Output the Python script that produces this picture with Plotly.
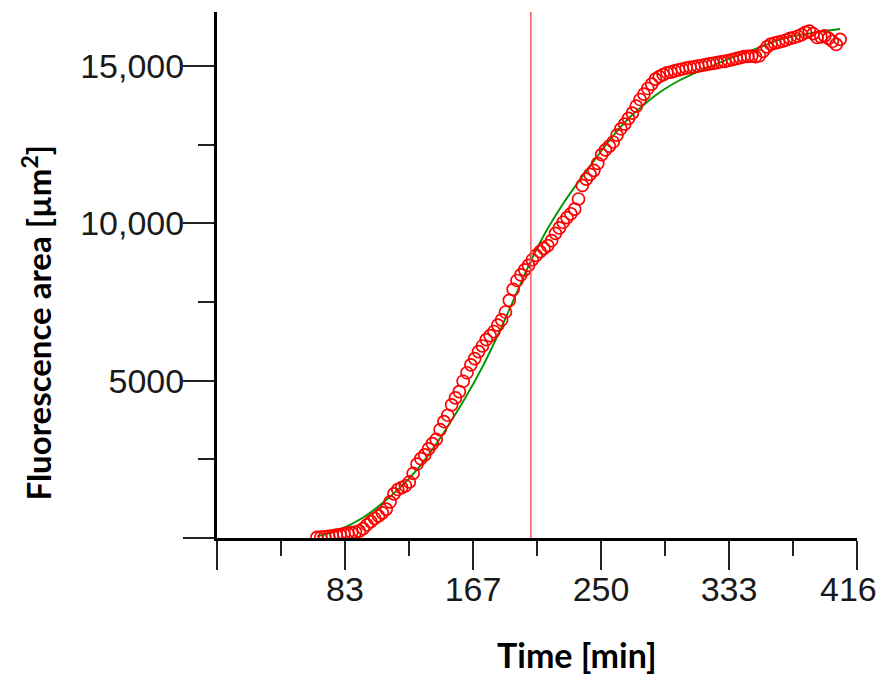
import plotly.graph_objects as go

# ---- data ----
time_min = [
    65, 67.5, 70, 72.5, 75, 77.5, 80, 82.5, 85, 87.5,
    90, 92.5, 95, 97.5, 100, 102.5, 105, 107.5, 110, 112.5,
    115, 117.5, 120, 122.5, 125, 127.5, 130, 132.5, 135, 137.5,
    140, 142.5, 145, 147.5, 150, 152.5, 155, 157.5, 160, 162.5,
    165, 167.5, 170, 172.5, 175, 177.5, 180, 182.5, 185, 187.5,
    190, 192.5, 195, 197.5, 200, 202.5, 205, 207.5, 210, 212.5,
    215, 217.5, 220, 222.5, 225, 227.5, 230, 232.5, 235, 237.5,
    240, 242.5, 245, 247.5, 250, 252.5, 255, 257.5, 260, 262.5,
    265, 267.5, 270, 272.5, 275, 277.5, 280, 282.5, 285, 287.5,
    290, 292.5, 295, 297.5, 300, 302.5, 305, 307.5, 310, 312.5,
    315, 317.5, 320, 322.5, 325, 327.5, 330, 332.5, 335, 337.5,
    340, 342.5, 345, 347.5, 350, 352.5, 355, 357.5, 360, 362.5,
    365, 367.5, 370, 372.5, 375, 377.5, 380, 382.5, 385, 387.5,
    390, 392.5, 395, 397.5, 400, 402.5, 405,
]
area_um2 = [
    20, 30, 40, 50, 70, 90, 110, 130, 150, 170,
    190, 220, 300, 420, 520, 620, 700, 800, 920, 1150,
    1400, 1540, 1600, 1660, 1780, 2050, 2350, 2520, 2640, 2830,
    3000, 3130, 3440, 3700, 3900, 4230, 4450, 4650, 4980, 5250,
    5500, 5700, 5920, 6100, 6300, 6430, 6560, 6760, 6930, 7180,
    7550, 7900, 8180, 8360, 8520, 8660, 8840, 8980, 9100, 9200,
    9290, 9450, 9680, 9850, 10030, 10180, 10300, 10450, 10770, 11200,
    11400, 11550, 11680, 11900, 12180, 12330, 12450, 12580, 12800, 13000,
    13150, 13330, 13500, 13720, 13930, 14100, 14280, 14420, 14580, 14660,
    14720, 14780, 14800, 14840, 14870, 14900, 14930, 14950, 14970, 14990,
    15010, 15040, 15060, 15080, 15100, 15130, 15140, 15170, 15200, 15230,
    15260, 15290, 15300, 15310, 15290, 15320, 15460, 15600, 15690, 15720,
    15750, 15780, 15820, 15870, 15900, 15940, 15990, 16060, 16100, 16020,
    15900, 15920, 15950, 15870, 15780, 15680, 15840,
]

# fitted curve (green)
fit_time = [65, 80, 95, 108, 119, 130, 141, 151, 162, 173, 184, 194, 204,
            214, 224, 234, 245, 257, 268, 280, 290, 301, 312, 322, 333,
            345, 356, 366, 380, 393, 405]
fit_area = [50, 270, 650, 1130, 1600, 2170, 2880, 3620, 4500, 5480, 6600,
            7700, 8800, 9750, 10550, 11250, 11980, 12750, 13350, 13870,
            14230, 14550, 14800, 15000, 15230, 15440, 15650, 15830, 15990,
            16090, 16170]

inflection_time = 204

x_tick_vals = [0, 83.2, 166.4, 249.6, 332.8, 416]
x_tick_text = ["", "83", "167", "250", "333", ""]
x_last_label = "416"          # drawn separately so it stays inside the window
x_last_label_pos = 410.5      # the reference nudges this label left of its tick
x_minor_vals = [41.6, 124.8, 208, 291.2, 374.4]
y_tick_vals = [0, 5000, 10000, 15000]
y_tick_text = ["", "5000", "10,000", "15,000"]
y_minor_vals = [2500, 7500, 12500]

X_MAX = 416
Y_MAX = 16710

fig = go.Figure()

fig.add_trace(go.Scatter(
    x=fit_time, y=fit_area, mode="lines", line_shape="spline",
    line=dict(color="rgb(0,150,0)", width=1.9), hoverinfo="skip",
))
fig.add_trace(go.Scatter(
    x=time_min, y=area_um2, mode="markers",
    marker=dict(symbol="circle-open", size=12, color="rgb(255,0,0)",
                line=dict(width=1.7, color="rgb(255,0,0)")),
))

fig.add_shape(type="line", xref="x", yref="y",
              x0=inflection_time, x1=inflection_time, y0=0, y1=Y_MAX,
              line=dict(color="rgb(245,80,80)", width=1.4))

tick_font = dict(family="Liberation Sans, Arial, sans-serif", size=34, color="#1a1a1a")

fig.update_xaxes(
    range=[0, X_MAX], showgrid=False, zeroline=False,
    showline=True, linecolor="black", linewidth=3,
    ticks="outside", ticklen=29, tickwidth=1.6, tickcolor="#222",
    tickmode="array", tickvals=x_tick_vals, ticktext=x_tick_text,
    tickfont=tick_font, ticklabelstandoff=-10,
    minor=dict(tickmode="array", tickvals=x_minor_vals, ticks="outside",
               ticklen=15, tickwidth=1.6, tickcolor="#222", showgrid=False),
)
fig.update_yaxes(
    range=[0, Y_MAX], showgrid=False, zeroline=False,
    showline=True, linecolor="black", linewidth=3,
    ticks="outside", ticklen=31, tickwidth=1.6, tickcolor="#222",
    tickmode="array", tickvals=y_tick_vals, ticktext=y_tick_text,
    tickfont=tick_font, ticklabelstandoff=-8,
    minor=dict(tickmode="array", tickvals=y_minor_vals, ticks="outside",
               ticklen=16, tickwidth=1.6, tickcolor="#222", showgrid=False),
)

fig.add_annotation(text=x_last_label, xref="x", yref="paper",
                   x=x_last_label_pos, y=-(589.5 - 538.5) / 526,
                   xanchor="center", yanchor="middle", showarrow=False,
                   font=tick_font)

title_font = dict(family="Lato, Open Sans, sans-serif", size=34, color="black")

fig.add_annotation(text="<b>Time [min]</b>", xref="paper", yref="paper",
                   x=(577 - 217) / (857 - 217), y=-(655 - 538.5) / 526,
                   xanchor="center", yanchor="middle", showarrow=False,
                   font=title_font)
fig.add_annotation(text="<b>Fluorescence area [µm<sup>2</sup>]</b>",
                   xref="paper", yref="paper",
                   x=-(217 - 36) / (857 - 217), y=(538.5 - 323) / 526,
                   xanchor="center", yanchor="middle", textangle=-90,
                   showarrow=False, font=dict(family="Lato, Open Sans, sans-serif",
                                               size=33, color="black"))

fig.update_layout(
    width=884, height=675,
    margin=dict(l=217, r=27, t=12, b=137, autoexpand=False),
    paper_bgcolor="white", plot_bgcolor="white",
    showlegend=False,
)

# remove the browser's default 8px page margin so the figure fills the window
fig.write_html("out.html",
               config={"displayModeBar": False},
               post_script="document.body.style.margin='0';"
                           "document.body.style.overflow='hidden';")
